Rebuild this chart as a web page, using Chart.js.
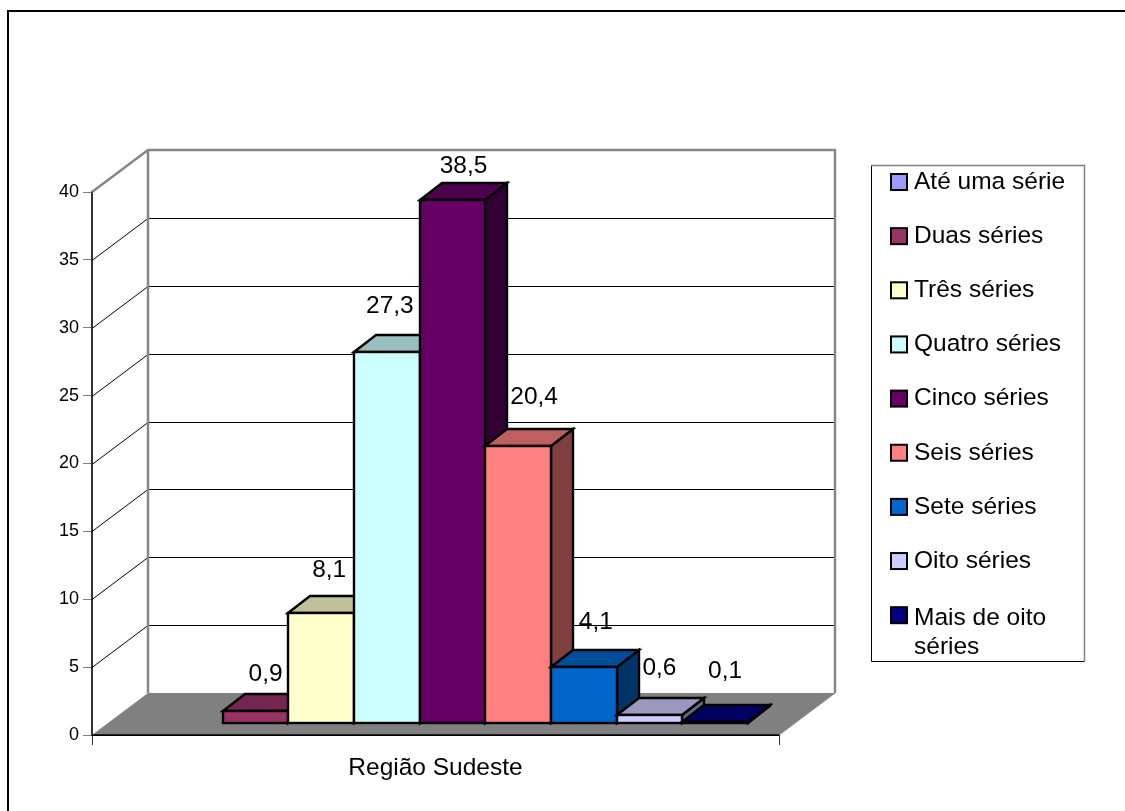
<!DOCTYPE html>
<html lang="pt">
<head>
<meta charset="utf-8">
<title>Região Sudeste</title>
<script src="https://cdn.jsdelivr.net/npm/chart.js@4"></script>
<style>
    html, body { margin: 0; padding: 0; background: #fff; }
    #wrap { width: 1125px; height: 811px; }
    canvas { display: block; }
</style>
</head>
<body>
<div id="wrap"><canvas id="grafico" width="1125" height="811"></canvas></div>
<script>
// Dados do gráfico
const regiao = ['Região Sudeste'];
const series = ['Até uma série', 'Duas séries', 'Três séries', 'Quatro séries', 'Cinco séries',
    'Seis séries', 'Sete séries', 'Oito séries', 'Mais de oito séries'];
const valores = [0, 0.9, 8.1, 27.3, 38.5, 20.4, 4.1, 0.6, 0.1];
const rotulos = ['', '0,9', '8,1', '27,3', '38,5', '20,4', '4,1', '0,6', '0,1'];
const escalaY = [0, 5, 10, 15, 20, 25, 30, 35, 40];

// Cores de cada série
const cores = ['#9999ff', '#993366', '#ffffcc', '#ccffff', '#660066', '#ff8080', '#0066cc', '#ccccff', '#000080'];
const coresTopo = ['#7373bf', '#732650', '#bfbf99', '#99bfbf', '#4d004d', '#bf6060', '#004d99', '#9999bf', '#000060'];
const coresLado = ['#4d4d80', '#4d1a33', '#808066', '#668080', '#330033', '#804040', '#003366', '#666680', '#000040'];

// Ajuste fino dos rótulos [dx, subida acima da face frontal]
const ajusteRotulo = [[0, 0], [-1, 37], [-3, 43], [-8, 46], [0, 34], [5, 49], [1, 45], [-1, 47], [-1, 50]];

// Profundidade da parede e das colunas
const parede = { dx: 56, dy: 42 };
const coluna = { dx: 22, dy: 17 };
const recuo = { dx: 17, dy: 12 };

const fonte = '"Liberation Sans", Arial, sans-serif';

function poligono(ctx, pontos, fill, stroke, lw) {
    ctx.beginPath();
    pontos.forEach((p, i) => i ? ctx.lineTo(p[0], p[1]) : ctx.moveTo(p[0], p[1]));
    ctx.closePath();
    if (fill) { ctx.fillStyle = fill; ctx.fill(); }
    if (stroke) { ctx.strokeStyle = stroke; ctx.lineWidth = lw; ctx.lineJoin = 'miter'; ctx.stroke(); }
}

const grafico3d = {
    id: 'grafico3d',
    // moldura, chão e paredes ficam atrás das colunas
    beforeDatasetsDraw(chart) {
        const { ctx, chartArea: a, scales: { y } } = chart;
        ctx.save();
        ctx.strokeStyle = '#000';
        ctx.lineWidth = 2;
        ctx.beginPath();
        ctx.moveTo(8, 811);
        ctx.lineTo(8, 11);
        ctx.lineTo(1125, 11);
        ctx.stroke();

        // chão
        poligono(ctx, [[a.left, a.bottom], [a.left + parede.dx, a.bottom - parede.dy],
            [a.right + parede.dx, a.bottom - parede.dy], [a.right, a.bottom]], '#808080');

        // linhas de grade
        escalaY.forEach(v => {
            if (v === 0 || v === 40) return;
            const py = Math.round(y.getPixelForValue(v)) + 0.5;
            ctx.strokeStyle = '#000';
            ctx.lineWidth = 1;
            ctx.beginPath();
            ctx.moveTo(a.left, py);
            ctx.lineTo(a.left + parede.dx, py - parede.dy);
            ctx.lineTo(a.right + parede.dx, py - parede.dy);
            ctx.stroke();
        });

        // contorno cinza da parede
        ctx.strokeStyle = '#868686';
        ctx.lineWidth = 2.5;
        ctx.beginPath();
        ctx.moveTo(a.left, a.top);
        ctx.lineTo(a.left + parede.dx, a.top - parede.dy);
        ctx.lineTo(a.right + parede.dx, a.top - parede.dy);
        ctx.lineTo(a.right + parede.dx, a.bottom - parede.dy);
        ctx.moveTo(a.left + parede.dx, a.top - parede.dy);
        ctx.lineTo(a.left + parede.dx, a.bottom - parede.dy);
        ctx.stroke();

        // frente do chão
        ctx.strokeStyle = '#000';
        ctx.lineWidth = 1.5;
        ctx.beginPath();
        ctx.moveTo(a.left, a.bottom);
        ctx.lineTo(a.right, a.bottom);
        ctx.stroke();
        ctx.strokeStyle = '#808080';
        ctx.lineWidth = 1;
        ctx.beginPath();
        ctx.moveTo(a.right, a.bottom);
        ctx.lineTo(a.right + parede.dx, a.bottom - parede.dy);
        ctx.stroke();
        ctx.restore();
    },
    // a biblioteca desenha cada série de trás para a frente, aqui queremos da esquerda para a direita
    beforeDatasetDraw() {
        return false;
    },
    afterDatasetsDraw(chart) {
        const { ctx } = chart;
        ctx.save();
        valores.forEach((v, i) => {
            if (v === 0) return; // série sem valor não tem coluna
            const barra = chart.getDatasetMeta(i).data[0];
            const esq = Math.round(barra.x - barra.width / 2 + recuo.dx);
            const dir = Math.round(barra.x + barra.width / 2 + recuo.dx);
            const topo = Math.round(barra.y - recuo.dy);
            const base = Math.round(barra.base - recuo.dy);

            // face lateral e topo
            poligono(ctx, [[dir, topo], [dir + coluna.dx, topo - coluna.dy], [dir + coluna.dx, base - coluna.dy], [dir, base]],
                coresLado[i], '#000', 2.4);
            poligono(ctx, [[esq, topo], [esq + coluna.dx, topo - coluna.dy], [dir + coluna.dx, topo - coluna.dy], [dir, topo]],
                coresTopo[i], '#000', 2.4);

            // face frontal: o próprio elemento de barra
            ctx.save();
            ctx.translate(recuo.dx, -recuo.dy);
            barra.draw(ctx, chart.chartArea);
            ctx.restore();
            ctx.strokeStyle = '#000';
            ctx.lineWidth = 2.4;
            ctx.strokeRect(esq, topo, dir - esq, base - topo);
        });

        // rótulos de valor
        ctx.fillStyle = '#000';
        ctx.font = '24.5px ' + fonte;
        ctx.textAlign = 'center';
        ctx.textBaseline = 'middle';
        rotulos.forEach((txt, i) => {
            if (!txt) return;
            const barra = chart.getDatasetMeta(i).data[0];
            ctx.fillText(txt, barra.x + recuo.dx + coluna.dx / 2 + ajusteRotulo[i][0], barra.y - recuo.dy - ajusteRotulo[i][1]);
        });

        // legenda
        ctx.fillStyle = '#fff';
        ctx.fillRect(871, 165, 213, 496);
        ctx.strokeStyle = '#000';
        ctx.lineWidth = 1;
        ctx.beginPath();
        ctx.moveTo(871.5, 165.5);
        ctx.lineTo(871.5, 661.5);
        ctx.lineTo(1084.5, 661.5);
        ctx.stroke();
        ctx.strokeStyle = '#808080';
        ctx.lineWidth = 1.5;
        ctx.beginPath();
        ctx.moveTo(871.5, 165.5);
        ctx.lineTo(1084.5, 165.5);
        ctx.lineTo(1084.5, 661.5);
        ctx.stroke();
        ctx.textAlign = 'left';
        const linhas = { 'Mais de oito séries': ['Mais de oito', 'séries'] };
        series.forEach((nome, i) => {
            const yc = 182 + i * 54.15;
            ctx.fillStyle = cores[i];
            ctx.fillRect(891, yc - 8, 16, 16);
            ctx.strokeStyle = '#000';
            ctx.lineWidth = 2;
            ctx.strokeRect(891, yc - 8, 16, 16);
            ctx.fillStyle = '#000';
            (linhas[nome] || [nome]).forEach((l, k) => ctx.fillText(l, 914, yc + k * 29 + (linhas[nome] ? 3 : 0)));
        });
        ctx.restore();
    }
};

new Chart(document.getElementById('grafico'), {
    type: 'bar',
    data: {
        labels: regiao,
        datasets: series.map((nome, i) => ({
            label: nome,
            data: [valores[i]],
            backgroundColor: cores[i],
            borderWidth: 0
        }))
    },
    options: {
        responsive: false,
        animation: false,
        layout: { padding: { top: 192, right: 346, left: 0, bottom: 0 } },
        categoryPercentage: 0.86,
        barPercentage: 1,
        plugins: { legend: { display: false }, tooltip: { enabled: false }, title: { display: false } },
        scales: {
            x: {
                afterFit(s) { s.height = 76; },
                grid: { drawOnChartArea: false, tickLength: 10, color: '#333', offset: true },
                border: { color: '#000' },
                ticks: { color: '#000', padding: 9, maxRotation: 0, font: { family: fonte, size: 24.5 } }
            },
            y: {
                min: 0,
                max: 40,
                afterFit(s) { s.width = 92; },
                grid: { drawOnChartArea: false, tickLength: 9, color: '#808080' },
                border: { color: '#333', width: 2 },
                ticks: { stepSize: 5, color: '#000', padding: 4, font: { family: fonte, size: 18 } }
            }
        }
    },
    plugins: [grafico3d]
});
</script>
</body>
</html>
